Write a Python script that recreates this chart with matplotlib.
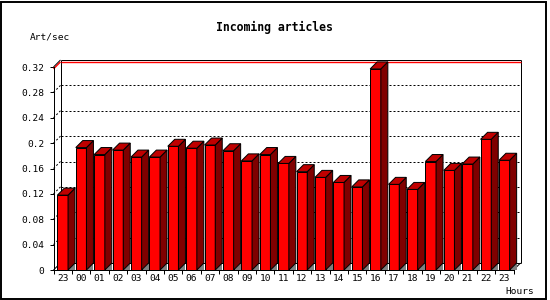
import numpy as np
import matplotlib
matplotlib.use('Agg')
import matplotlib.pyplot as plt
from matplotlib.patches import Polygon, Rectangle

# data
hours = ['23', '00', '01', '02', '03', '04', '05', '06', '07', '08', '09', '10',
         '11', '12', '13', '14', '15', '16', '17', '18', '19', '20', '21', '22', '23']
rates = [0.118, 0.193, 0.182, 0.189, 0.178, 0.178, 0.195, 0.192, 0.197, 0.188,
         0.172, 0.182, 0.168, 0.155, 0.146, 0.138, 0.131, 0.317, 0.135, 0.127,
         0.171, 0.157, 0.167, 0.206, 0.173]
yticks = [0, 0.04, 0.08, 0.12, 0.16, 0.2, 0.24, 0.28, 0.32]

W, H = 550, 300
fnt = 'DejaVu Sans Mono'
lw = 0.72

fig = plt.figure(figsize=(W / 100, H / 100), dpi=100)
fig.patch.set_facecolor('white')

# front plot area in pixels
x0, x1, y0, y1 = 53.5, 513.5, 270, 67
ax = fig.add_axes([x0 / W, 1 - y0 / H, (x1 - x0) / W, (y0 - y1) / H])
n = len(rates)
ymax = yticks[-1]
ax.set_xlim(0, n)
ax.set_ylim(0, ymax)
ax.patch.set_alpha(0)

# 3d depth in data units (7 px)
depth = 7
ddx = depth / ((x1 - x0) / n)
ddy = depth / ((y0 - y1) / ymax)

for s in ['top', 'right']:
    ax.spines[s].set_visible(False)
for s in ['left', 'bottom']:
    ax.spines[s].set_linewidth(lw)
    ax.spines[s].set_zorder(20)

ax.set_yticks(yticks)
ax.set_yticklabels([f'{v:g}' for v in yticks], fontsize=6.8, family=fnt)
ax.tick_params(axis='y', length=3, width=lw, pad=3.6)
ax.set_xticks(np.arange(0, n + 1))
ax.set_xticklabels([])
ax.set_xticks(np.arange(n) + 0.5, minor=True)
ax.set_xticklabels(hours, minor=True, fontsize=6.8, family=fnt)
ax.tick_params(axis='x', which='major', length=3, width=lw)
ax.tick_params(axis='x', which='minor', length=0, pad=3)

def ln(xs, ys, **kw):
    kw.setdefault('color', 'black')
    kw.setdefault('lw', lw)
    ax.plot(xs, ys, clip_on=False, solid_capstyle='butt', **kw)

# back plane
ln([ddx, ddx], [ddy, ymax + ddy])
ln([n + ddx, n + ddx], [ddy, ymax + ddy])
ln([ddx, n + ddx], [ymax + ddy, ymax + ddy])
ln([ddx, n + ddx], [ddy, ddy])
ln([0, ddx], [ymax, ymax + ddy])
ln([0, ddx], [0, ddy])
ln([n, n + ddx], [0, ddy])
for v in yticks[1:-1]:
    ln([ddx, n + ddx], [v + ddy, v + ddy], ls=(0, (2, 2)))
    ln([0, ddx], [v, v + ddy], ls=(0, (2, 2)))

# red line at the maximum
top = max(rates)
ln([ddx, n + ddx], [top + ddy, top + ddy], color='red', lw=1.0)
ln([0, ddx], [top, top + ddy], color='red', lw=1.0)

# 3d bars
bw = 0.58
for i, v in enumerate(rates):
    a = i + 0.5 - bw / 2
    b = a + bw
    z = 5 + i
    ax.add_patch(Polygon([(b, 0), (b + ddx, 0), (b + ddx, ddy)], closed=True,
                         fc='#808080', ec='none', zorder=z, clip_on=False))
    ax.add_patch(Polygon([(a, 0), (b, 0), (b, v), (a, v)], closed=True,
                         fc='#ff0000', ec='black', lw=lw, zorder=z, clip_on=False))
    ax.add_patch(Polygon([(b, 0), (b + ddx, ddy), (b + ddx, v + ddy), (b, v)], closed=True,
                         fc='#800000', ec='black', lw=lw, zorder=z, clip_on=False))
    ax.add_patch(Polygon([(a, v), (b, v), (b + ddx, v + ddy), (a + ddx, v + ddy)], closed=True,
                         fc='#c00000', ec='black', lw=lw, zorder=z, clip_on=False))

# titles
fig.text(274 / W, 1 - 27 / H, 'Incoming articles', ha='center', va='center',
         fontsize=8.3, fontweight='bold', family=fnt)
fig.text(30 / W, 1 - 36.5 / H, 'Art/sec', ha='left', va='center', fontsize=6.8, family=fnt)
fig.text(505 / W, 1 - 291.5 / H, 'Hours', ha='left', va='center', fontsize=6.8, family=fnt)

# outer frame
fig.patches.append(Rectangle((1 / W, 1.5 / H), 545 / W, 297 / H, transform=fig.transFigure,
                             fill=False, ec='black', lw=1.4))

fig.savefig('out.png', dpi=100)
